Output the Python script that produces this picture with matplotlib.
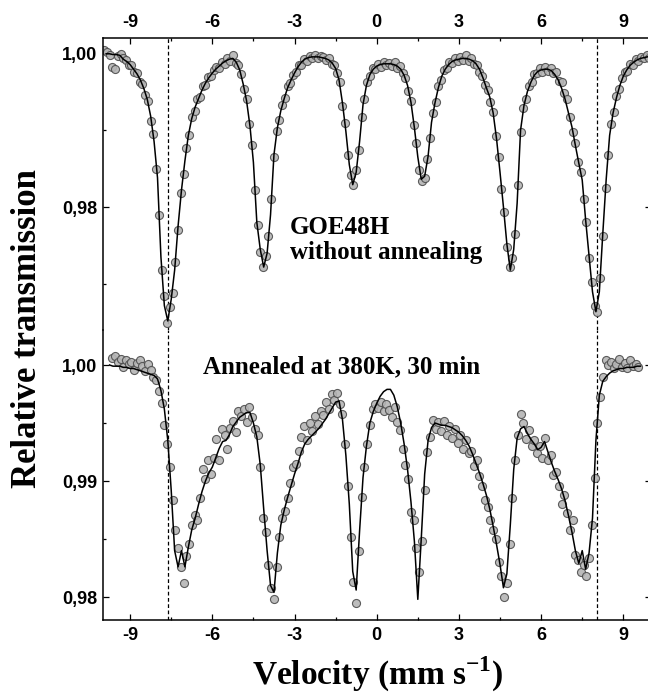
import matplotlib.pyplot as plt
import numpy as np
from matplotlib.ticker import MultipleLocator, FuncFormatter

plt.rcParams['axes.unicode_minus'] = False
plt.rcParams['mathtext.fontset'] = 'custom'
plt.rcParams['mathtext.rm'] = 'Liberation Serif:bold'
plt.rcParams['mathtext.bf'] = 'Liberation Serif:bold'

nan = np.nan

# measured channels (mm/s)
channel_velocity = [
    -9.95, -9.85, -9.75, -9.65, -9.55, -9.45, -9.35, -9.25, -9.15, -9.05,
    -8.95, -8.85, -8.75, -8.65, -8.55, -8.45, -8.35, -8.25, -8.15, -8.05,
    -7.95, -7.85, -7.75, -7.65, -7.55, -7.45, -7.35, -7.25, -7.15, -7.05,
    -6.95, -6.85, -6.75, -6.65, -6.55, -6.45, -6.35, -6.25, -6.15, -6.05,
    -5.95, -5.85, -5.75, -5.65, -5.55, -5.45, -5.35, -5.25, -5.15, -5.05,
    -4.95, -4.85, -4.75, -4.65, -4.55, -4.45, -4.35, -4.25, -4.15, -4.05,
    -3.95, -3.85, -3.75, -3.65, -3.55, -3.45, -3.35, -3.25, -3.15, -3.05,
    -2.95, -2.85, -2.75, -2.65, -2.55, -2.45, -2.35, -2.25, -2.15, -2.05,
    -1.95, -1.85, -1.75, -1.65, -1.55, -1.45, -1.35, -1.25, -1.15, -1.05,
    -0.95, -0.85, -0.75, -0.65, -0.55, -0.45, -0.35, -0.25, -0.15, -0.05,
    0.05, 0.15, 0.25, 0.35, 0.45, 0.55, 0.65, 0.75, 0.85, 0.95,
    1.05, 1.15, 1.25, 1.35, 1.45, 1.55, 1.65, 1.75, 1.85, 1.95,
    2.05, 2.15, 2.25, 2.35, 2.45, 2.55, 2.65, 2.75, 2.85, 2.95,
    3.05, 3.15, 3.25, 3.35, 3.45, 3.55, 3.65, 3.75, 3.85, 3.95,
    4.05, 4.15, 4.25, 4.35, 4.45, 4.55, 4.65, 4.75, 4.85, 4.95,
    5.05, 5.15, 5.25, 5.35, 5.45, 5.55, 5.65, 5.75, 5.85, 5.95,
    6.05, 6.15, 6.25, 6.35, 6.45, 6.55, 6.65, 6.75, 6.85, 6.95,
    7.05, 7.15, 7.25, 7.35, 7.45, 7.55, 7.65, 7.75, 7.85, 7.95,
    8.05, 8.15, 8.25, 8.35, 8.45, 8.55, 8.65, 8.75, 8.85, 8.95,
    9.05, 9.15, 9.25, 9.35, 9.45, 9.55, 9.65, 9.75, 9.85, 9.95,
]

# GOE48H without annealing, measured
goe48h = [
    1.0004, 1.0001, 0.9998, 0.9982, 0.9979, 0.9996, 0.9999, 0.9993, 0.9991, 0.9985,
    0.9984, 0.9976, 0.9974, 0.9963, 0.9960, 0.9945, 0.9938, 0.9912, 0.9895, 0.9850,
    0.9790, 0.9718, 0.9684, 0.9650, 0.9670, 0.9688, 0.9728, 0.9770, 0.9818, 0.9843,
    0.9876, 0.9893, 0.9917, 0.9925, 0.9940, 0.9943, 0.9957, 0.9959, 0.9969, 0.9970,
    0.9978, 0.9982, 0.9981, 0.9988, 0.9986, 0.9993, 0.9990, 0.9997, 0.9987, 0.9984,
    0.9973, 0.9953, 0.9940, 0.9908, 0.9880, 0.9822, 0.9776, 0.9741, 0.9722, 0.9736,
    0.9762, 0.9810, 0.9865, 0.9899, 0.9913, 0.9932, 0.9941, 0.9957, 0.9961, 0.9972,
    0.9975, 0.9984, 0.9985, 0.9992, 0.9990, 0.9996, 0.9993, 0.9997, 0.9994, 0.9996,
    0.9995, 0.9991, 0.9993, 0.9986, 0.9985, 0.9974, 0.9962, 0.9931, 0.9909, 0.9868,
    0.9842, 0.9828, 0.9848, 0.9874, 0.9917, 0.9940, 0.9963, 0.9970, 0.9980, 0.9979,
    0.9986, 0.9982, 0.9988, 0.9984, 0.9987, 0.9983, 0.9988, 0.9980, 0.9983, 0.9974,
    0.9968, 0.9951, 0.9938, 0.9906, 0.9883, 0.9848, 0.9834, 0.9838, 0.9863, 0.9890,
    0.9922, 0.9936, 0.9957, 0.9965, 0.9978, 0.9980, 0.9988, 0.9987, 0.9993, 0.9990,
    0.9995, 0.9991, 0.9997, 0.9990, 0.9993, 0.9986, 0.9985, 0.9975, 0.9970, 0.9958,
    0.9952, 0.9936, 0.9924, 0.9892, 0.9865, 0.9824, 0.9793, 0.9748, 0.9722, 0.9734,
    0.9765, 0.9828, 0.9897, 0.9929, 0.9940, 0.9957, 0.9962, 0.9973, 0.9974, 0.9980,
    0.9976, 0.9982, 0.9977, 0.9981, 0.9974, 0.9975, 0.9964, 0.9962, 0.9948, 0.9940,
    0.9917, 0.9897, 0.9883, 0.9859, 0.9846, 0.9811, 0.9780, 0.9734, 0.9702, 0.9671,
    0.9664, 0.9708, 0.9762, 0.9825, 0.9867, 0.9908, 0.9924, 0.9944, 0.9953, 0.9968,
    0.9975, 0.9977, 0.9986, 0.9985, 0.9992, 0.9990, 0.9995, 0.9993, 0.9997, 0.9994,
]

# annealed at 380K, 30 min, measured
annealed = [
    nan, nan, nan, 1.0006, 1.0008, 1.0003, 1.0005, 0.9998, 1.0004, 1.0001,
    1.0003, 0.9996, 1.0002, 1.0004, 0.9999, 0.9995, 1.0001, 0.9996, 0.9990, 0.9987,
    0.9978, 0.9967, 0.9948, 0.9932, 0.9912, 0.9884, 0.9858, 0.9842, 0.9826, 0.9812,
    0.9835, 0.9846, 0.9862, 0.9871, 0.9866, 0.9885, 0.9910, 0.9902, 0.9918, 0.9906,
    0.9920, 0.9936, 0.9918, 0.9945, 0.9940, 0.9928, 0.9946, 0.9952, 0.9942, 0.9960,
    0.9956, 0.9962, 0.9951, 0.9964, 0.9955, 0.9945, 0.9940, 0.9912, 0.9868, 0.9856,
    0.9828, 0.9808, 0.9798, 0.9826, 0.9852, 0.9868, 0.9874, 0.9885, 0.9898, 0.9912,
    0.9915, 0.9926, 0.9938, 0.9947, 0.9935, 0.9950, 0.9943, 0.9956, 0.9949, 0.9960,
    0.9957, 0.9968, 0.9962, 0.9975, 0.9970, 0.9976, 0.9966, 0.9958, 0.9932, 0.9896,
    0.9852, 0.9813, 0.9795, 0.9840, 0.9886, 0.9912, 0.9932, 0.9948, 0.9962, 0.9966,
    0.9963, 0.9968, 0.9960, 0.9966, 0.9961, 0.9955, 0.9964, 0.9951, 0.9944, 0.9928,
    0.9914, 0.9902, 0.9873, 0.9866, 0.9842, 0.9822, 0.9848, 0.9892, 0.9925, 0.9938,
    0.9953, 0.9945, 0.9951, 0.9943, 0.9952, 0.9940, 0.9947, 0.9937, 0.9945, 0.9933,
    0.9940, 0.9928, 0.9935, 0.9924, 0.9926, 0.9913, 0.9918, 0.9904, 0.9896, 0.9884,
    0.9878, 0.9866, 0.9858, 0.9850, 0.9830, 0.9818, 0.9800, 0.9812, 0.9846, 0.9885,
    0.9918, 0.9940, 0.9958, 0.9950, 0.9936, 0.9944, 0.9930, 0.9935, 0.9924, 0.9930,
    0.9920, 0.9937, 0.9918, 0.9922, 0.9905, 0.9908, 0.9896, 0.9880, 0.9888, 0.9872,
    0.9858, 0.9866, 0.9836, 0.9832, 0.9822, 0.9828, 0.9818, 0.9834, 0.9862, 0.9903,
    0.9950, 0.9972, 0.9990, 1.0004, 1.0000, 1.0003, 0.9997, 1.0001, 1.0005, 0.9998,
    1.0002, 0.9997, 1.0004, 0.9999, 1.0001, 0.9998, nan, nan, nan, nan,
]

# fitted curves, evaluated on a finer velocity grid
fit_velocity = [
    -9.875, -9.75, -9.625, -9.5, -9.375, -9.25, -9.125, -9.0,
    -8.875, -8.75, -8.625, -8.5, -8.375, -8.25, -8.125, -8.0,
    -7.875, -7.75, -7.625, -7.5, -7.375, -7.25, -7.125, -7.0,
    -6.875, -6.75, -6.625, -6.5, -6.375, -6.25, -6.125, -6.0,
    -5.875, -5.75, -5.625, -5.5, -5.375, -5.25, -5.125, -5.0,
    -4.875, -4.75, -4.625, -4.5, -4.375, -4.25, -4.125, -4.0,
    -3.875, -3.75, -3.625, -3.5, -3.375, -3.25, -3.125, -3.0,
    -2.875, -2.75, -2.625, -2.5, -2.375, -2.25, -2.125, -2.0,
    -1.875, -1.75, -1.625, -1.5, -1.375, -1.25, -1.125, -1.0,
    -0.875, -0.75, -0.625, -0.5, -0.375, -0.25, -0.125, 0.0,
    0.125, 0.25, 0.375, 0.5, 0.625, 0.75, 0.875, 1.0,
    1.125, 1.25, 1.375, 1.5, 1.625, 1.75, 1.875, 2.0,
    2.125, 2.25, 2.375, 2.5, 2.625, 2.75, 2.875, 3.0,
    3.125, 3.25, 3.375, 3.5, 3.625, 3.75, 3.875, 4.0,
    4.125, 4.25, 4.375, 4.5, 4.625, 4.75, 4.875, 5.0,
    5.125, 5.25, 5.375, 5.5, 5.625, 5.75, 5.875, 6.0,
    6.125, 6.25, 6.375, 6.5, 6.625, 6.75, 6.875, 7.0,
    7.125, 7.25, 7.375, 7.5, 7.625, 7.75, 7.875, 8.0,
    8.125, 8.25, 8.375, 8.5, 8.625, 8.75, 8.875, 9.0,
    9.125, 9.25, 9.375, 9.5, 9.625, 9.75, 9.875,
]
goe48h_fit = [
    0.9999, 0.9999, 0.9998, 0.9998, 0.9997, 0.9992, 0.9989, 0.9985,
    0.9979, 0.9973, 0.9965, 0.9954, 0.9940, 0.9918, 0.9885, 0.9838,
    0.9735, 0.9672, 0.9652, 0.9680, 0.9718, 0.9775, 0.9822, 0.9860,
    0.9893, 0.9915, 0.9930, 0.9941, 0.9952, 0.9961, 0.9968, 0.9974,
    0.9979, 0.9983, 0.9987, 0.9990, 0.9992, 0.9993, 0.9988, 0.9978,
    0.9960, 0.9938, 0.9905, 0.9858, 0.9780, 0.9745, 0.9722, 0.9740,
    0.9790, 0.9868, 0.9903, 0.9925, 0.9941, 0.9955, 0.9965, 0.9974,
    0.9982, 0.9988, 0.9992, 0.9994, 0.9995, 0.9995, 0.9995, 0.9994,
    0.9993, 0.9991, 0.9987, 0.9980, 0.9965, 0.9935, 0.9898, 0.9855,
    0.9829, 0.9845, 0.9885, 0.9933, 0.9958, 0.9972, 0.9979, 0.9983,
    0.9985, 0.9986, 0.9986, 0.9986, 0.9985, 0.9983, 0.9979, 0.9971,
    0.9958, 0.9936, 0.9903, 0.9865, 0.9836, 0.9840, 0.9866, 0.9910,
    0.9935, 0.9955, 0.9970, 0.9979, 0.9985, 0.9989, 0.9991, 0.9992,
    0.9993, 0.9993, 0.9992, 0.9990, 0.9986, 0.9979, 0.9968, 0.9955,
    0.9943, 0.9922, 0.9888, 0.9845, 0.9800, 0.9752, 0.9718, 0.9745,
    0.9805, 0.9900, 0.9932, 0.9950, 0.9962, 0.9971, 0.9976, 0.9978,
    0.9979, 0.9979, 0.9977, 0.9972, 0.9965, 0.9954, 0.9940, 0.9922,
    0.9904, 0.9880, 0.9857, 0.9835, 0.9783, 0.9737, 0.9690, 0.9664,
    0.9690, 0.9765, 0.9836, 0.9893, 0.9922, 0.9942, 0.9958, 0.9970,
    0.9978, 0.9984, 0.9988, 0.9991, 0.9993, 0.9994, 0.9995,
]
annealed_fit = [
    nan, 1.0000, 0.9999, 0.9999, 0.9999, 0.9998, 0.9998, 0.9997,
    0.9997, 0.9996, 0.9995, 0.9994, 0.9993, 0.9992, 0.9991, 0.9988,
    0.9978, 0.9962, 0.9935, 0.9892, 0.9840, 0.9826, 0.9840, 0.9826,
    0.9843, 0.9858, 0.9868, 0.9880, 0.9891, 0.9900, 0.9907, 0.9912,
    0.9920, 0.9928, 0.9934, 0.9935, 0.9940, 0.9947, 0.9951, 0.9955,
    0.9957, 0.9959, 0.9959, 0.9950, 0.9938, 0.9914, 0.9876, 0.9840,
    0.9810, 0.9804, 0.9838, 0.9862, 0.9875, 0.9886, 0.9896, 0.9906,
    0.9915, 0.9925, 0.9932, 0.9936, 0.9939, 0.9942, 0.9945, 0.9949,
    0.9953, 0.9958, 0.9963, 0.9968, 0.9969, 0.9953, 0.9922, 0.9880,
    0.9822, 0.9806, 0.9857, 0.9903, 0.9930, 0.9950, 0.9960, 0.9967,
    0.9973, 0.9977, 0.9979, 0.9979, 0.9974, 0.9964, 0.9950, 0.9932,
    0.9910, 0.9882, 0.9848, 0.9798, 0.9850, 0.9906, 0.9935, 0.9946,
    0.9950, 0.9949, 0.9948, 0.9948, 0.9947, 0.9946, 0.9944, 0.9942,
    0.9939, 0.9935, 0.9930, 0.9923, 0.9915, 0.9907, 0.9898, 0.9888,
    0.9876, 0.9861, 0.9845, 0.9828, 0.9808, 0.9820, 0.9862, 0.9910,
    0.9937, 0.9945, 0.9947, 0.9941, 0.9936, 0.9932, 0.9927, 0.9929,
    0.9934, 0.9925, 0.9916, 0.9908, 0.9901, 0.9893, 0.9883, 0.9870,
    0.9856, 0.9840, 0.9829, 0.9840, 0.9824, 0.9838, 0.9868, 0.9935,
    0.9974, 0.9986, 0.9990, 0.9993, 0.9995, 0.9996, 0.9997, 0.9997,
    0.9998, 0.9998, 0.9998, 0.9999, 0.9999, nan, nan,
]

outer_lines = [-7.62, 8.03]

label_font = dict(family='Liberation Serif', weight='bold')

fig = plt.figure(figsize=(6.48, 7.0), dpi=100)
ax1 = fig.add_axes([0.1585, 0.5286, 0.8457, 0.4171])
ax2 = fig.add_axes([0.1585, 0.1143, 0.8457, 0.4143])

comma = FuncFormatter(lambda v, p: f"{v:.2f}".replace(".", ","))

for ax, pts, fit in [(ax1, goe48h, goe48h_fit), (ax2, annealed, annealed_fit)]:
    ax.plot(channel_velocity, pts, 'o', ms=5.8, mfc='#b5b5b5', mec='#4d4d4d',
            mew=0.8, alpha=0.9, zorder=2)
    ax.plot(fit_velocity, fit, '-', color='black', lw=1.1, zorder=3)
    for v in outer_lines:
        ax.axvline(v, color='black', ls=(0, (3, 2)), lw=0.9, zorder=1)
    ax.set_xlim(-10, 10)
    ax.xaxis.set_major_locator(MultipleLocator(3))
    ax.xaxis.set_minor_locator(MultipleLocator(1.5))
    ax.yaxis.set_major_formatter(comma)
    ax.tick_params(which='both', direction='in', width=0.9, labelsize=13)
    ax.tick_params(which='major', length=4)
    ax.tick_params(which='minor', length=2.5)
    ax.tick_params(axis='y', which='both', left=True, right=True, pad=4)
    for s in ax.spines.values():
        s.set_linewidth(1.1)
    ax.patch.set_alpha(0)

ax1.set_ylim(0.96403, 1.00195)
ax1.yaxis.set_major_locator(MultipleLocator(0.02))
ax1.yaxis.set_minor_locator(MultipleLocator(0.01))
ax1.spines['bottom'].set_visible(False)
ax1.tick_params(axis='x', which='both', top=True, bottom=False,
                labeltop=True, labelbottom=False, pad=5)

ax2.set_ylim(0.97802, 1.00302)
ax2.yaxis.set_major_locator(MultipleLocator(0.01))
ax2.yaxis.set_minor_locator(MultipleLocator(0.005))
ax2.spines['top'].set_visible(False)
ax2.tick_params(axis='x', which='both', top=False, bottom=True, pad=5)

for ax in (ax1, ax2):
    for lab in ax.get_xticklabels() + ax.get_yticklabels():
        lab.set_fontfamily('Liberation Sans')
        lab.set_fontweight('bold')

fig.text(290 / 648, 1 - 227 / 700, "GOE48H", ha='left', va='center',
         fontsize=18, **label_font)
fig.text(290 / 648, 1 - 253 / 700, "without annealing", ha='left', va='center',
         fontsize=18, **label_font)
fig.text(203 / 648, 1 - 367 / 700, "Annealed at 380K, 30 min", ha='left',
         va='center', fontsize=18, **label_font)

fig.text(0.043, 0.53, "Relative transmission", rotation=90, ha='center',
         va='center', fontsize=25, **label_font)
fig.text(0.582, 0.036, r"Velocity (mm s$^{-1}$)", ha='center', va='center',
         fontsize=24, **label_font)

fig.savefig('out.png', dpi=100)
